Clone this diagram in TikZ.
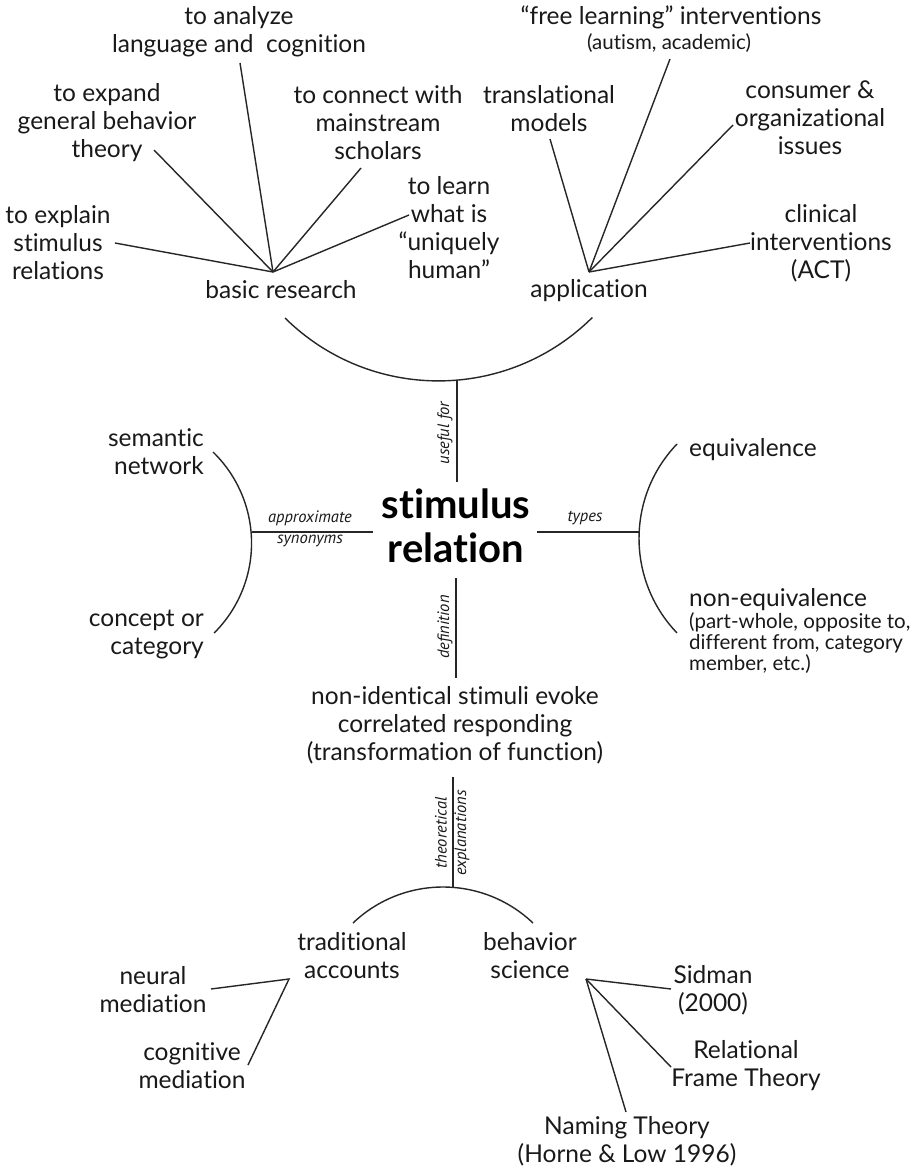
\documentclass[tikz,border=0pt]{standalone}
\usepackage{fontspec}
\setmainfont{Lato}[Ligatures=NoCommon]
\newfontfamily\labelfont{PT Sans}
\begin{document}
\begin{tikzpicture}[x=1pt, y=-1pt,
  txt/.style={font=\fontsize{24.5}{28}\selectfont, align=center, inner sep=0pt, text=black!90},
  smalltxt/.style={font=\fontsize{20.5}{21}\selectfont, align=left, inner sep=0pt, text=black!90},
  lab/.style={font=\labelfont\itshape\fontsize{16.5}{19}\selectfont, inner sep=0pt, text=black!90},
  core/.style={font=\bfseries\fontsize{40}{44}\selectfont, align=center, inner sep=0pt},
  link/.style={line width=1.4pt, black!85}]
\fill[white] (0,0) rectangle (914,1167);
\useasboundingbox (0,0) rectangle (914,1167);

% ---------- centre ----------
\node[core] (core) at (456,526) {stimulus\\relation};

% ---------- useful for: basic research / application ----------
\node[txt] (basic) at (281,290) {basic research};
\node[txt] (appl) at (589,291) {application};

\node[txt] (analyze) at (239,32) {to analyze\\language and\ \ cognition};
\node[txt] (expand) at (107,123) {to expand\\general behavior\\theory};
\node[txt] (connect) at (378,123) {to connect with\\mainstream\\scholars};
\node[txt] (explain) at (58,243) {to explain\\stimulus\\relations};
\node[txt] (learn) at (449,228) {to learn\\what is\\“uniquely\\human”};

\node[txt] (transl) at (549,109) {translational\\models};
\node[txt] (free) at (671,17) {“free learning” interventions};
\node[smalltxt] (freeSub) at (669,43) {(autism, academic)};
\node[txt] (consumer) at (810,118) {consumer \&\\organizational\\issues};
\node[txt] (clinical) at (821,243) {clinical\\interventions\\(ACT)};

\coordinate (brHub) at (273,272);
\coordinate (apHub) at (589,272);
\coordinate (explainEnd) at (115,243);
\coordinate (expandEnd) at (154,150);
\coordinate (analyzeEnd) at (240,63);
\coordinate (connectEnd) at (361,168);
\coordinate (learnEnd) at (409,215);
\coordinate (translEnd) at (550,139);
\coordinate (freeEnd) at (670,59);
\coordinate (consumerEnd) at (733,125);
\coordinate (clinicalEnd) at (750,243);

\foreach \e in {explainEnd,expandEnd,analyzeEnd,connectEnd,learnEnd}
  \draw[link] (brHub) -- (\e);
\foreach \e in {translEnd,freeEnd,consumerEnd,clinicalEnd}
  \draw[link] (apHub) -- (\e);

\coordinate (usefulArcL) at (285,318);
\coordinate (usefulArcB) at (457,380);
\coordinate (usefulEnd) at (457,482);
\draw[link] (usefulArcL) arc[start angle=134.6, end angle=45.2, radius=218.5];
\draw[link] (usefulArcB) -- (usefulEnd);
\node[lab, rotate=90] (useful) at (445,433) {useful for};

% ---------- approximate synonyms ----------
\node[txt, align=right, anchor=east] (semantic) at (204,452) {semantic\\network};
\node[txt, align=right, anchor=east] (concept) at (204,635) {concept or\\category};
\coordinate (synArcT) at (213,452);
\coordinate (synArcM) at (252,532);
\coordinate (synEnd) at (373,532);
\draw[link] (synArcT) arc[start angle=-45.9, end angle=45.2, radius=126.8];
\draw[link] (synArcM) -- (synEnd);
\node[lab] (approx) at (310,518) {approximate};
\node[lab] (synon) at (310,541) {synonyms};

% ---------- types ----------
\node[txt, align=left, anchor=west] (equiv) at (689,450) {equivalence};
\node[txt, align=left, anchor=west] (nonequiv) at (689,600) {non-equivalence};
\node[smalltxt, anchor=west] (nonequivSub) at (689,643) {(part-whole, opposite to,\\different from, category\\member, etc.)};
\coordinate (typeArcT) at (677,444);
\coordinate (typeArcM) at (639,532);
\coordinate (typeStart) at (537,532);
\draw[link] (typeArcT) arc[start angle=223.8, end angle=136.2, radius=136.5];
\draw[link] (typeStart) -- (typeArcM);
\node[lab] (types) at (585,518) {types};

% ---------- definition ----------
\coordinate (defStart) at (456,578);
\coordinate (defEnd) at (456,678);
\draw[link] (defStart) -- (defEnd);
\node[lab, rotate=90] (defn) at (445,627) {definition};
\node[txt] (nonident) at (455,725) {non-identical stimuli evoke\\correlated responding\\(transformation of function)};

% ---------- theoretical explanations ----------
\coordinate (theoStart) at (453,777);
\coordinate (theoArcT) at (453,887);
\coordinate (theoArcL) at (353,923);
\draw[link] (theoStart) -- (theoArcT);
\draw[link] (theoArcL) arc[start angle=226.4, end angle=313.6, radius=130.5];
\node[lab, rotate=90] (theo) at (441,833) {theoretical};
\node[lab, rotate=90] (expl) at (462,833) {explanations};

\node[txt] (trad) at (352,956) {traditional\\accounts};
\node[txt] (behsci) at (530,956) {behavior\\science};

\coordinate (trHub) at (289,979);
\coordinate (neuralEnd) at (211,989);
\coordinate (cognEnd) at (248,1065);
\draw[link] (neuralEnd) -- (trHub) -- (cognEnd);
\node[txt] (neural) at (153,990) {neural\\mediation};
\node[txt] (cogn) at (192,1066) {cognitive\\mediation};

\coordinate (bsHub) at (586,979);
\coordinate (sidmanEnd) at (671,989);
\coordinate (rftEnd) at (671,1067);
\coordinate (namingEnd) at (626,1112);
\foreach \e in {sidmanEnd,rftEnd,namingEnd}
  \draw[link] (bsHub) -- (\e);
\node[txt] (sidman) at (713,990) {Sidman\\(2000)};
\node[txt] (rft) at (746,1066) {Relational\\Frame Theory};
\node[txt] (naming) at (627,1141) {Naming Theory\\(Horne \& Low 1996)};
\end{tikzpicture}
\end{document}
